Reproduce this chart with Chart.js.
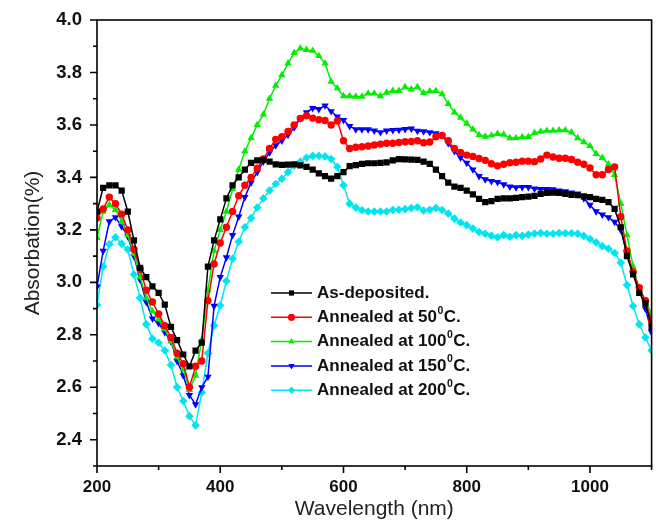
<!DOCTYPE html>
<html><head><meta charset="utf-8">
<script src="https://cdn.jsdelivr.net/npm/chart.js@4/dist/chart.umd.min.js"></script>
<style>html,body{margin:0;padding:0;background:#fff;}#wrap{width:656px;height:524px;}</style>
</head><body><div id="wrap"><canvas id="c" width="656" height="524"></canvas></div>
<script>
const wavelengths = [200,210,220,230,240,250,260,270,280,290,300,310,320,330,340,350,360,370,380,390,400,410,420,430,440,450,460,470,480,490,500,510,520,530,540,550,560,570,580,590,600,610,620,630,640,650,660,670,680,690,700,710,720,730,740,750,760,770,780,790,800,810,820,830,840,850,860,870,880,890,900,910,920,930,940,950,960,970,980,990,1000,1010,1020,1030,1040,1050,1060,1070,1080,1090,1100];

const asDeposited = [3.27,3.36,3.37,3.37,3.35,3.27,3.16,3.055,3.02,2.985,
2.96,2.915,2.83,2.78,2.725,2.68,2.74,2.77,3.06,3.16,
3.24,3.32,3.37,3.40,3.43,3.455,3.465,3.467,3.46,3.45,
3.448,3.449,3.45,3.446,3.44,3.43,3.415,3.405,3.395,3.405,
3.42,3.443,3.447,3.452,3.454,3.454,3.455,3.457,3.465,3.47,
3.469,3.468,3.467,3.46,3.452,3.43,3.405,3.38,3.365,3.36,
3.35,3.335,3.318,3.306,3.31,3.318,3.32,3.32,3.322,3.325,
3.327,3.33,3.337,3.341,3.342,3.341,3.337,3.333,3.332,3.328,
3.325,3.318,3.314,3.306,3.28,3.21,3.10,3.03,2.96,2.92,2.83];

const annealed50 = [3.245,3.28,3.325,3.30,3.26,3.20,3.125,3.05,2.97,2.925,
2.88,2.835,2.79,2.73,2.69,2.60,2.68,2.70,2.93,3.07,
3.15,3.21,3.27,3.33,3.37,3.40,3.435,3.47,3.51,3.545,
3.555,3.575,3.60,3.625,3.635,3.626,3.62,3.617,3.60,3.615,
3.54,3.51,3.515,3.517,3.52,3.524,3.527,3.53,3.53,3.533,
3.536,3.537,3.54,3.532,3.535,3.555,3.56,3.54,3.51,3.495,
3.485,3.48,3.472,3.465,3.452,3.444,3.45,3.456,3.458,3.462,
3.462,3.46,3.47,3.485,3.478,3.473,3.473,3.468,3.458,3.45,
3.436,3.41,3.41,3.43,3.44,3.25,3.12,3.04,2.98,2.93,2.85];

const annealed100 = [3.17,3.27,3.295,3.276,3.232,3.18,3.11,3.02,2.94,2.89,
2.86,2.822,2.775,2.715,2.67,2.59,2.645,2.78,2.97,3.12,
3.20,3.27,3.355,3.43,3.50,3.55,3.60,3.64,3.70,3.75,
3.79,3.835,3.875,3.892,3.886,3.883,3.863,3.835,3.765,3.74,
3.71,3.71,3.708,3.708,3.72,3.72,3.71,3.723,3.73,3.73,
3.744,3.736,3.744,3.722,3.728,3.73,3.718,3.68,3.648,3.628,
3.605,3.583,3.562,3.556,3.56,3.566,3.563,3.55,3.55,3.554,
3.555,3.57,3.575,3.578,3.578,3.58,3.58,3.572,3.55,3.535,
3.52,3.49,3.475,3.45,3.41,3.30,3.18,3.06,2.97,2.93,2.88];

const annealed150 = [2.984,3.12,3.232,3.248,3.213,3.175,3.10,3.01,2.925,2.862,
2.844,2.81,2.775,2.70,2.645,2.57,2.535,2.60,2.64,2.91,
3.02,3.095,3.18,3.25,3.325,3.38,3.42,3.46,3.495,3.522,
3.54,3.562,3.59,3.625,3.648,3.664,3.66,3.674,3.652,3.632,
3.618,3.595,3.583,3.583,3.583,3.578,3.572,3.578,3.58,3.581,
3.584,3.586,3.577,3.575,3.572,3.568,3.56,3.53,3.50,3.475,
3.455,3.43,3.405,3.392,3.386,3.382,3.373,3.365,3.362,3.363,
3.363,3.357,3.355,3.355,3.354,3.35,3.347,3.342,3.338,3.32,
3.295,3.27,3.258,3.248,3.23,3.20,3.11,3.035,2.975,2.90,2.81];

const annealed200 = [2.914,3.06,3.145,3.172,3.147,3.125,3.03,2.94,2.84,2.785,
2.77,2.74,2.685,2.60,2.548,2.49,2.455,2.58,2.73,2.836,
2.912,3.005,3.09,3.155,3.21,3.245,3.285,3.32,3.35,3.375,
3.395,3.42,3.445,3.46,3.475,3.482,3.482,3.48,3.47,3.44,
3.37,3.30,3.285,3.275,3.27,3.27,3.27,3.27,3.276,3.277,
3.279,3.283,3.286,3.274,3.277,3.283,3.276,3.262,3.243,3.228,
3.218,3.205,3.192,3.185,3.178,3.172,3.18,3.174,3.18,3.177,
3.182,3.186,3.188,3.185,3.185,3.188,3.187,3.187,3.185,3.177,
3.165,3.152,3.138,3.128,3.112,3.075,2.99,2.91,2.84,2.79,2.74];

const seriesLabels = ['As-deposited.','Annealed at 50\u2070C.','Annealed at 100\u2070C.','Annealed at 150\u2070C.','Annealed at 200\u2070C.'];
const xTitle = 'Wavelength (nm)';
const yTitle = 'Absorbation(%)';

const seriesValues = [asDeposited, annealed50, annealed100, annealed150, annealed200];
const colors = ['#000000','#ff0000','#00ee00','#0000ff','#00e5ee'];
const markers = [
  {style:'rect', radius:4.4, rotation:0},
  {style:'circle', radius:3.7, rotation:0},
  {style:'triangle', radius:4.3, rotation:0},
  {style:'triangle', radius:4.3, rotation:180},
  {style:'rectRot', radius:4.3, rotation:0}
];

const datasets = seriesValues.map((vals, i) => ({
  label: seriesLabels[i],
  data: wavelengths.map((w, k) => ({x: w, y: vals[k]})),
  borderColor: colors[i],
  backgroundColor: colors[i],
  borderWidth: 1.5,
  pointStyle: markers[i].style,
  pointRotation: markers[i].rotation,
  pointRadius: markers[i].radius,
  pointBorderWidth: 0,
  pointBackgroundColor: colors[i],
  pointBorderColor: colors[i],
  tension: 0,
  fill: false
}));

const FONT = '"Liberation Sans", Arial, Helvetica, sans-serif';

const framePlugin = {
  id: 'frame',
  afterDraw(chart) {
    const ctx = chart.ctx, a = chart.chartArea, xs = chart.scales.x, ys = chart.scales.y;
    ctx.save();
    ctx.strokeStyle = '#000';
    ctx.lineWidth = 1.6;
    ctx.strokeRect(a.left, a.top, a.right - a.left, a.bottom - a.top);
    ctx.beginPath();
    xs.ticks.forEach(t => {
      const px = xs.getPixelForValue(t.value);
      const major = Math.round(t.value - 200) % 200 === 0;
      ctx.moveTo(px, a.bottom);
      ctx.lineTo(px, a.bottom + (major ? 7 : 4));
    });
    ys.ticks.forEach(t => {
      const py = ys.getPixelForValue(t.value);
      const major = Math.round(t.value * 10) % 2 === 0;
      ctx.moveTo(a.left, py);
      ctx.lineTo(a.left - (major ? 7 : 4), py);
    });
    ctx.stroke();

    // legend inside plot
    const lx0 = 271, lx1 = 312, tx = 317, y0 = 293, dy = 24.3;
    chart.data.datasets.forEach((ds, i) => {
      const y = y0 + i * dy;
      ctx.strokeStyle = ds.borderColor;
      ctx.lineWidth = 1.5;
      ctx.beginPath();
      ctx.moveTo(lx0, y); ctx.lineTo(lx1, y);
      ctx.stroke();
      ctx.fillStyle = ds.backgroundColor;
      Chart.helpers.drawPoint(ctx, {pointStyle: ds.pointStyle, rotation: ds.pointRotation, radius: 3.4, borderWidth: 0}, (lx0 + lx1) / 2, y);
      ctx.fill();
      ctx.fillStyle = '#111';
      ctx.textBaseline = 'middle';
      ctx.textAlign = 'left';
      const parts = ds.label.split('\u2070');
      ctx.font = 'bold 17px ' + FONT;
      let x = tx;
      ctx.fillText(parts[0], x, y);
      x += ctx.measureText(parts[0]).width;
      if (parts.length > 1) {
        ctx.font = 'bold 10.5px ' + FONT;
        ctx.fillText('0', x + 0.5, y - 6.5);
        x += ctx.measureText('0').width + 1;
        ctx.font = 'bold 17px ' + FONT;
        ctx.fillText(parts[1], x, y);
      }
    });
    ctx.restore();
  }
};

new Chart(document.getElementById('c'), {
  type: 'line',
  data: { datasets },
  options: {
    responsive: false,
    animation: false,
    devicePixelRatio: 1,
    layout: { padding: { top: 20, right: 3, left: 0, bottom: 0 } },
    plugins: { legend: { display: false }, tooltip: { enabled: false } },
    scales: {
      x: {
        type: 'linear', min: 200, max: 1100,
        grid: { display: false, drawTicks: false },
        border: { display: false },
        ticks: {
          stepSize: 100, autoSkip: false, maxRotation: 0, padding: 11,
          color: '#111', font: { family: FONT, size: 17, weight: 'bold' },
          callback: v => (Math.round(v - 200) % 200 === 0 && v < 1100) ? String(v) : ''
        },
        title: { display: true, text: xTitle, color: '#222', font: { family: FONT, size: 21 }, padding: { top: 0, bottom: 2 } },
        afterFit: s => { s.height = 58; s.paddingLeft = 0; s.paddingRight = 0; }
      },
      y: {
        type: 'linear', min: 2.3, max: 4.0,
        grid: { display: false, drawTicks: false },
        border: { display: false },
        ticks: {
          stepSize: 0.1, autoSkip: false, padding: 15,
          color: '#111', font: { family: FONT, size: 18.5, weight: 'bold' },
          callback: v => { const k = Math.round(v * 10); return (k % 2 === 0 && k >= 24) ? (k / 10).toFixed(1) : ''; }
        },
        title: { display: true, text: yTitle, color: '#222', font: { family: FONT, size: 21 }, padding: { top: 21, bottom: 0 } },
        afterFit: s => { s.width = 97; s.paddingTop = 0; s.paddingBottom = 0; }
      }
    }
  },
  plugins: [framePlugin]
});
</script>
</body></html>
